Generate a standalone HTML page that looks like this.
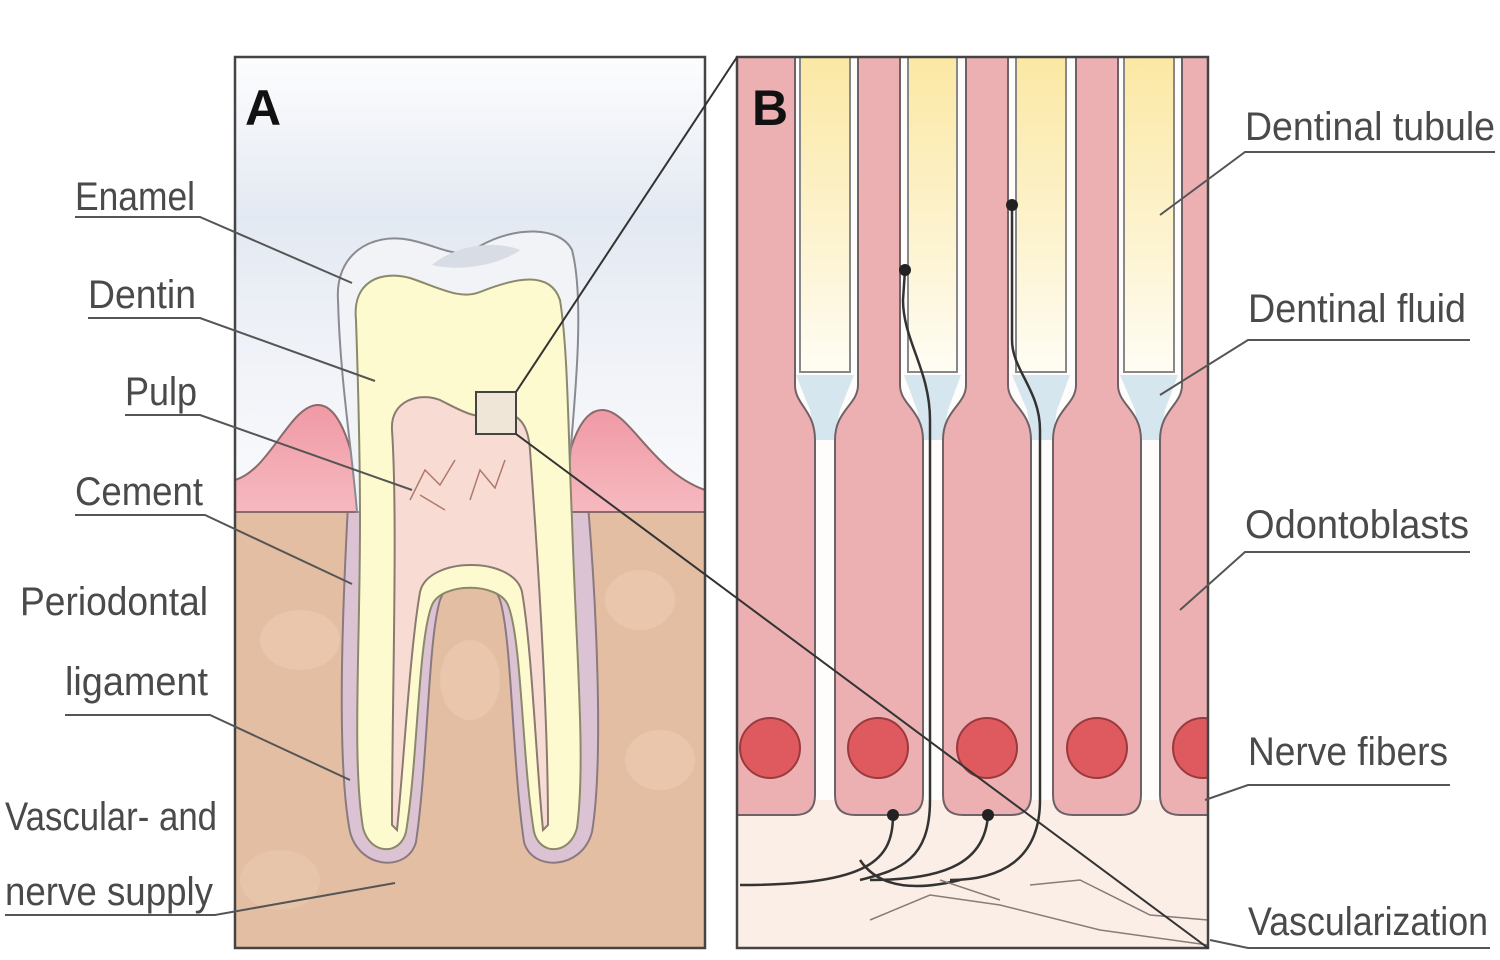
<!DOCTYPE html>
<html><head><meta charset="utf-8"><style>html,body{margin:0;padding:0;background:#fff}svg{display:block}</style></head>
<body>
<svg width="1500" height="960" viewBox="0 0 1500 960" xmlns="http://www.w3.org/2000/svg" font-family="Liberation Sans, sans-serif">
<defs>
<linearGradient id="sky" x1="0" y1="0" x2="0" y2="1">
<stop offset="0" stop-color="#fdfdfe"/><stop offset="0.35" stop-color="#e3e9f2"/><stop offset="0.6" stop-color="#eef1f7"/><stop offset="1" stop-color="#fbfbfd"/></linearGradient>
<linearGradient id="tub" x1="0" y1="0" x2="0" y2="1">
<stop offset="0" stop-color="#fbe7a0"/><stop offset="0.6" stop-color="#fdf3d0"/><stop offset="1" stop-color="#fffdf4"/></linearGradient>
<linearGradient id="gum" x1="0" y1="0" x2="0" y2="1">
<stop offset="0" stop-color="#f09aa6"/><stop offset="1" stop-color="#f6b9bf"/></linearGradient>
<clipPath id="ca"><rect x="235" y="57" width="470" height="891"/></clipPath>
<clipPath id="cb"><rect x="737" y="57" width="471" height="891"/></clipPath>
</defs>

<!-- PANEL A -->
<g clip-path="url(#ca)">
<rect x="235" y="57" width="470" height="460" fill="url(#sky)"/>
<rect x="235" y="510" width="470" height="440" fill="#e3bea2"/>
<ellipse cx="300" cy="640" rx="40" ry="30" fill="#ecccb2" opacity="0.6"/>
<ellipse cx="640" cy="600" rx="35" ry="30" fill="#ecccb2" opacity="0.6"/>
<ellipse cx="470" cy="680" rx="30" ry="40" fill="#ecccb2" opacity="0.6"/>
<ellipse cx="660" cy="760" rx="35" ry="30" fill="#ecccb2" opacity="0.6"/>
<ellipse cx="280" cy="880" rx="40" ry="30" fill="#ecccb2" opacity="0.5"/>
<!-- cementum / periodontal -->
<path d="M348,505 C343,600 336,760 350,832 C360,870 408,872 416,842 C428,760 428,640 440,600 C450,572 490,572 500,600 C512,640 512,760 524,842 C532,872 582,870 592,832 C604,760 596,600 588,505 Z" fill="#dcc3d4" stroke="#8a7a80" stroke-width="2"/>
<!-- gums -->
<path d="M235,480 C270,470 290,405 318,405 C340,405 355,450 362,512 L235,512 Z" fill="url(#gum)" stroke="#8a6a6a" stroke-width="2"/>
<path d="M560,512 C565,450 580,410 602,410 C630,410 650,470 705,490 L705,512 Z" fill="url(#gum)" stroke="#8a6a6a" stroke-width="2"/>
<line x1="235" y1="512" x2="705" y2="512" stroke="#8a6a6a" stroke-width="2"/>
<!-- enamel -->
<path d="M338,300 C335,255 370,232 410,240 C440,246 460,262 480,246 C515,226 560,226 572,250 C585,300 575,400 568,480 L566,512 L357,512 C352,450 340,380 338,300 Z" fill="#f2f3f6" stroke="#8a8a92" stroke-width="2"/>
<path d="M432,265 C455,245 495,240 520,250 C500,265 460,272 432,265 Z" fill="#d8dce4"/>
<!-- dentin -->
<path d="M356,320 C352,282 380,270 410,278 C440,288 460,300 480,292 C515,278 550,270 560,300 C568,350 568,430 572,520 C576,650 586,760 577,828 C570,855 540,856 534,832 C522,760 522,640 508,605 C498,582 442,582 432,605 C418,640 418,760 406,832 C400,856 370,855 363,828 C352,760 360,650 360,520 C360,450 358,380 356,320 Z" fill="#fdfad0" stroke="#8a8a6a" stroke-width="2"/>
<!-- pulp -->
<path d="M392,430 C390,400 420,392 440,400 C460,410 475,420 495,415 C515,410 528,420 530,450 C535,520 548,700 548,825 L543,830 C536,760 532,650 522,592 C514,556 428,556 420,592 C410,650 404,760 397,830 L392,825 C392,700 398,520 392,430 Z" fill="#f8dcd4" stroke="#8a7a70" stroke-width="2"/>
<path d="M410,500 L425,470 L440,485 L455,460 M470,500 L480,470 L495,488 L505,460 M420,495 L445,510" stroke="#b07a6a" stroke-width="1.5" fill="none"/>
<rect x="476" y="392" width="40" height="42" fill="#efe6d8" stroke="#444" stroke-width="2"/>
</g>
<rect x="235" y="57" width="470" height="891" fill="none" stroke="#444" stroke-width="2.5"/>
<text x="245" y="125" font-size="50" font-weight="bold" fill="#111">A</text>

<!-- PANEL B -->
<g clip-path="url(#cb)">
<rect x="737" y="57" width="471" height="891" fill="#fffdfb"/>
<rect x="737" y="800" width="471" height="150" fill="#fbeee6"/>
<g stroke="#888" stroke-width="2">
<path d="M800,40 L800,372 L850,372 L850,40 Z" fill="url(#tub)"/>
<path d="M908,40 L908,372 L957,372 L957,40 Z" fill="url(#tub)"/>
<path d="M1016,40 L1016,372 L1066,372 L1066,40 Z" fill="url(#tub)"/>
<path d="M1124,40 L1124,372 L1174,372 L1174,40 Z" fill="url(#tub)"/>
</g>
<g fill="#d6e6ee">
<path d="M796,375 L854,375 L840,410 L834,440 L816,440 L810,410 Z"/>
<path d="M904,375 L961,375 L948,410 L942,440 L923,440 L917,410 Z"/>
<path d="M1012,375 L1070,375 L1057,410 L1052,440 L1032,440 L1027,410 Z"/>
<path d="M1120,375 L1178,375 L1165,410 L1160,440 L1140,440 L1135,410 Z"/>
</g>
<g fill="#ecb0b2" stroke="#6e6266" stroke-width="2">
<path d="M720,40 L795,40 L795,385 C795,405 815,410 815,440 L815,795 Q815,815 795,815 L720,815 Z"/>
<path d="M858,40 L858,385 C858,405 835,410 835,440 L835,795 Q835,815 855,815 L903,815 Q923,815 923,795 L923,440 C923,410 900,405 900,385 L900,40 Z"/>
<path d="M966,40 L966,385 C966,405 943,410 943,440 L943,795 Q943,815 963,815 L1011,815 Q1031,815 1031,795 L1031,440 C1031,410 1008,405 1008,385 L1008,40 Z"/>
<path d="M1076,40 L1076,385 C1076,405 1053,410 1053,440 L1053,795 Q1053,815 1073,815 L1121,815 Q1141,815 1141,795 L1141,440 C1141,410 1118,405 1118,385 L1118,40 Z"/>
<path d="M1182,40 L1182,385 C1182,405 1160,410 1160,440 L1160,795 Q1160,815 1180,815 L1230,815 L1230,40 Z"/>
</g>
<g fill="#de5a5e" stroke="#9a3a3e" stroke-width="2">
<circle cx="770" cy="748" r="30"/><circle cx="878" cy="748" r="30"/><circle cx="987" cy="748" r="30"/><circle cx="1097" cy="748" r="30"/><circle cx="1203" cy="748" r="30"/>
</g>
<g stroke="#333" stroke-width="2.5" fill="none">
<path d="M905,270 L903,300 C903,340 930,370 930,420 L930,800 C930,860 900,870 860,880"/>
<path d="M1012,205 L1012,340 C1012,370 1040,390 1040,430 L1040,800 C1040,860 1000,880 950,880"/>
<path d="M893,815 C893,860 870,885 740,885"/>
<path d="M988,815 C985,860 950,880 870,880"/>
<path d="M860,860 C880,890 920,890 960,880"/>
</g>
<g fill="#222"><circle cx="905" cy="270" r="6"/><circle cx="1012" cy="205" r="6"/><circle cx="893" cy="815" r="6"/><circle cx="988" cy="815" r="6"/></g>
<g stroke="#8a7a78" stroke-width="1.5" fill="none">
<path d="M870,920 L930,895 L1000,905 L1100,930 L1208,945"/>
<path d="M1030,885 L1080,880 L1150,915 L1208,920"/>
<path d="M940,880 L1000,900"/>
</g>
</g>
<rect x="737" y="57" width="471" height="891" fill="none" stroke="#444" stroke-width="2.5"/>
<text x="752" y="125" font-size="50" font-weight="bold" fill="#111">B</text>

<line x1="516" y1="392" x2="737" y2="57" stroke="#333" stroke-width="2"/>
<line x1="516" y1="434" x2="1208" y2="948" stroke="#333" stroke-width="2"/>

<g font-size="40" fill="#4a4a4a">
<text x="75" y="210" textLength="120" lengthAdjust="spacingAndGlyphs">Enamel</text>
<text x="88" y="308" textLength="108" lengthAdjust="spacingAndGlyphs">Dentin</text>
<text x="125" y="405" textLength="72" lengthAdjust="spacingAndGlyphs">Pulp</text>
<text x="75" y="505" textLength="128" lengthAdjust="spacingAndGlyphs">Cement</text>
<text x="20" y="615" textLength="188" lengthAdjust="spacingAndGlyphs">Periodontal</text>
<text x="65" y="695" textLength="143" lengthAdjust="spacingAndGlyphs">ligament</text>
<text x="5" y="830" textLength="212" lengthAdjust="spacingAndGlyphs">Vascular- and</text>
<text x="5" y="905" textLength="208" lengthAdjust="spacingAndGlyphs">nerve supply</text>
<text x="1245" y="140" textLength="250" lengthAdjust="spacingAndGlyphs">Dentinal tubule</text>
<text x="1248" y="322" textLength="218" lengthAdjust="spacingAndGlyphs">Dentinal fluid</text>
<text x="1245" y="538" textLength="224" lengthAdjust="spacingAndGlyphs">Odontoblasts</text>
<text x="1248" y="765" textLength="200" lengthAdjust="spacingAndGlyphs">Nerve fibers</text>
<text x="1248" y="935" textLength="240" lengthAdjust="spacingAndGlyphs">Vascularization</text>
</g>
<g stroke="#555" stroke-width="2" fill="none">
<path d="M75,217 L200,217 L352,283"/>
<path d="M88,318 L200,318 L375,381"/>
<path d="M125,415 L200,415 L412,490"/>
<path d="M75,515 L205,515 L352,584"/>
<path d="M65,715 L210,715 L350,780"/>
<path d="M5,915 L215,915 L395,883"/>
<path d="M1495,152 L1245,152 L1160,215"/>
<path d="M1470,340 L1248,340 L1160,395"/>
<path d="M1470,552 L1245,552 L1180,610"/>
<path d="M1450,785 L1248,785 L1205,800"/>
<path d="M1490,948 L1248,948 L1210,940"/>
</g>
</svg>
</body></html>
